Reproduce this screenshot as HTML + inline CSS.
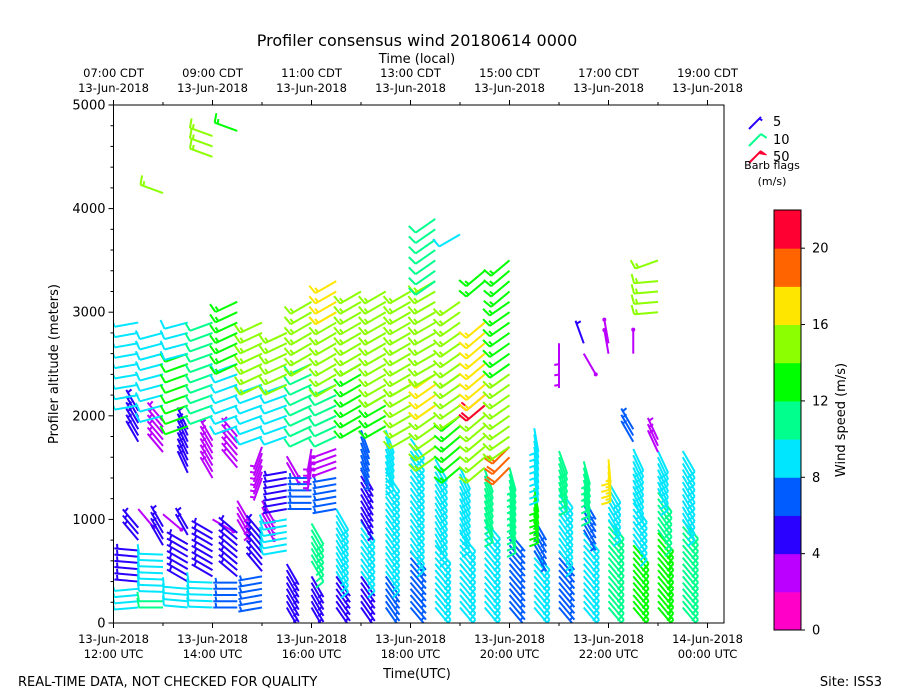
<!DOCTYPE html>
<html><head><meta charset="utf-8">
<style>
html,body{margin:0;padding:0;background:#fff;}
svg{display:block;font-family:"DejaVu Sans","Liberation Sans",sans-serif;}
</style></head>
<body>
<svg id="chart" width="900" height="700" viewBox="0 0 900 700" xmlns="http://www.w3.org/2000/svg">
<defs><clipPath id="plotclip"><rect x="113.5" y="105" width="610.5" height="518"/></clipPath></defs>
<rect x="0" y="0" width="900" height="700" fill="#fff"/>
<text x="417" y="46" font-size="16" text-anchor="middle">Profiler consensus wind 20180614 0000</text>
<text x="417" y="63" font-size="13" text-anchor="middle">Time (local)</text>
<text x="417" y="678" font-size="13" text-anchor="middle">Time(UTC)</text>
<text x="58" y="364" font-size="13" text-anchor="middle" transform="rotate(-90 58 364)">Profiler altitude (meters)</text>
<text x="18" y="686" font-size="13">REAL-TIME DATA, NOT CHECKED FOR QUALITY</text>
<text x="882" y="686" font-size="13" text-anchor="end">Site: ISS3</text>
<g id="barbs" clip-path="url(#plotclip)"></g>
<g id="axes"></g>
<g id="cbar"></g>
<g id="legend"></g>
</svg>
<script>
// ---- data ----
const utcTickHours = [0, 2, 4, 6, 8, 10, 12];
const utcTickDates = ["13-Jun-2018","13-Jun-2018","13-Jun-2018","13-Jun-2018","13-Jun-2018","13-Jun-2018","14-Jun-2018"];
const utcTickTimes = ["12:00 UTC","14:00 UTC","16:00 UTC","18:00 UTC","20:00 UTC","22:00 UTC","00:00 UTC"];
const localTickTimes = ["07:00 CDT","09:00 CDT","11:00 CDT","13:00 CDT","15:00 CDT","17:00 CDT","19:00 CDT"];
const altTicks = [0, 1000, 2000, 3000, 4000, 5000];
const cbarTicks = [0, 4, 8, 12, 16, 20];
const speedBounds = [0,2,4,6,8,10,12,14,16,18,20,22];
const speedColors = ["#ff00c8","#bb00ff","#2a00ff","#005cff","#00e6ff","#00ff8c","#00ff00","#8cff00","#ffe600","#ff6400","#ff0032"];
// bands: time (h after 12 UTC), mode (L=low 60m gates, H=high 100m gates), alt lo, alt hi, speed m/s, dir deg
const bandTime = [0.5,0.5,0.5,0.5,0.5,0.5, 1,1,1,1,1,1,1, 1.5,1.5,1.5,1.5,1.5,1.5, 2,2,2,2,2,2, 2.5,2.5,2.5,2.5,2.5,2.5,2.5, 3,3,3,3,3,3, 3.5,3.5,3.5,3.5,3.5,3.5, 4,4,4,4,4,4, 4.5,4.5,4.5,4.5,4.5,4.5,4.5, 5,5,5,5,5,5, 5.5,5.5,5.5,5.5,5.5,5.5, 6,6,6,6, 6.5,6.5,6.5,6.5,6.5,6.5, 7,7,7,7,7,7, 7.5,7.5,7.5,7.5,7.5,7.5, 8,8,8,8,8,8, 8.5,8.5,8.5,8.5, 9,9,9,9, 9.5,9.5,9.5,9.5,9.5, 10,10,10,10, 10.5,10.5,10.5,10.5,10.5, 11,11,11,11,11,11, 11.5,11.5];
const bandMode = ["L","L","L","L","L","H", "L","L","L","L","L","H","H", "L","L","L","L","H","H", "L","L","L","L","H","H", "L","L","L","L","H","H","H", "L","L","L","L","H","H", "L","L","L","L","H","H", "L","L","L","L","H","H", "L","L","L","L","H","H","H", "L","L","L","L","H","H", "L","L","L","H","H","H", "L","L","H","H", "L","L","H","H","H","H", "L","L","H","H","H","H", "L","L","H","H","H","H", "L","L","H","H","H","H", "L","L","L","L", "L","L","L","H", "L","L","L","H","H", "L","L","L","H", "L","L","L","L","H", "L","L","L","L","H","H", "L","L"];
const bandLo = [150,400,800,1100,1750,2100, 150,300,750,1050,1650,2000,4150, 150,400,850,1450,1900,2600, 150,450,1000,1400,2000,4500, 150,450,1000,1500,1900,2500,4750, 150,500,1000,1400,1800,2300, 150,700,1100,1550,1800,2300, 150,600,1100,1500,1800,2500, 150,500,1100,1500,1800,2300,3000, 150,500,1000,1500,1900,2500, 150,500,1500,1900,2200,3000, 150,700,1800,2300, 150,800,1600,2100,2400,3300, 150,900,1500,2000,2400,3750, 150,1000,1500,2100,2200,3300, 150,900,1500,1700,2500,3200, 150,700,1000,1400, 150,700,1300,2500, 150,900,1200,2600,2700, 150,1000,1400,2600, 150,800,1200,1750,2600, 150,900,1300,1650,3000,3500, 150,1000];
const bandHi = [350,750,950,1100,2050,2900, 250,700,950,1050,2000,2800,4150, 350,800,950,1900,2600,2900, 400,900,1000,1800,2900,4700, 400,900,1200,1800,2500,3100,4750, 450,900,1200,1700,2300,2900, 600,1000,1500,1650,2300,2800, 500,1000,1400,1700,2500,3100, 500,1100,1400,1700,2300,3000,3300, 500,1000,1500,1900,2500,3200, 500,1500,1900,2200,2900,3200, 700,1800,2300,3200, 800,1600,2100,2400,3300,3900, 900,1500,2000,2400,3100,3750, 1000,1500,2100,2200,2900,3400, 900,1500,1700,2400,3100,3500, 700,1000,1300,1900, 700,1300,1700,2700, 900,1200,1600,2600,2700, 1000,1400,1600,2700, 800,1200,1700,1900,2600, 900,1300,1700,1800,3300,3550, 1000,1700];
const bandSpeed = [9,5,5,2,5,9, 11,9,5,2,3,9,15, 9,5,5,4,12,9, 9,5,2,3,10,15, 7,5,3,3,9,13,13, 7,5,2,3,9,15, 5,9,5,2,9,15, 5,11,6,3,11,14, 5,9,6,2,11,15,17, 5,9,5,7,13,15, 6,9,9,13,15,14, 7,9,14,15, 8,9,15,17,14,11, 9,9,13,14,15,9, 9,11,14,20,17,13, 7,11,18,14,13,13, 9,6,13,9, 7,9,11,3, 9,6,11,2,5, 11,9,17,2, 12,9,9,6,2, 13,11,9,3,14,15, 10,9];
const bandDir = [265,275,320,140,330,260, 270,272,330,130,320,255,290, 275,300,330,335,250,255, 272,300,120,330,250,290, 270,310,150,320,250,245,290, 260,320,150,200,250,245, 150,260,260,150,250,245, 150,150,270,190,245,240, 145,150,260,250,245,240,240, 145,145,150,160,240,240, 145,145,160,240,240,240, 140,145,240,240, 140,150,235,235,240,235, 140,155,230,235,235,240, 140,160,230,230,230,230, 140,165,225,235,235,230, 140,150,170,170, 140,145,160,180, 140,150,165,150,340, 140,150,175,350, 140,145,155,330,0, 140,145,155,335,265,250, 140,150];

// ---- geometry ----
const X0 = 113.5, PXH = 49.5, XR = 724, YT = 105, YB = 623, ALTMAX = 5000;
const xs = h => X0 + h * PXH;
const ys = a => YB - a / ALTMAX * (YB - YT);
const NS = "http://www.w3.org/2000/svg";
function mk(tag, attrs, parent) {
  const e = document.createElementNS(NS, tag);
  for (const k in attrs) e.setAttribute(k, attrs[k]);
  parent.appendChild(e);
  return e;
}
function colorFor(s) {
  for (let i = 0; i < speedColors.length; i++) if (s < speedBounds[i + 1]) return speedColors[i];
  return speedColors[speedColors.length - 1];
}
function drawBarb(g, bx, by, spd, dir, L, name) {
  const r = dir * Math.PI / 180;
  const sx = Math.sin(r), sy = -Math.cos(r);
  const r2 = (dir + 80) * Math.PI / 180;
  const px = Math.sin(r2), py = -Math.cos(r2);
  const col = colorFor(spd);
  const tx = bx + sx * L, ty = by + sy * L;
  const grp = mk("g", {stroke: col, "stroke-width": 2, fill: "none", "stroke-linecap": "butt"}, g);
  
  
  mk("line", {x1: bx, y1: by, x2: tx, y2: ty}, grp);
  let rs = Math.round(spd / 5) * 5;
  if (rs === 0) { mk("circle", {cx: tx, cy: ty, r: 2, fill: col, stroke: "none"}, grp); return; }
  let pos = 0;
  const bl = L * 0.4, sp = L * 0.13;
  while (rs >= 50) {
    const ax = tx - sx * pos, ay = ty - sy * pos;
    const cx = tx - sx * (pos + sp * 1.6), cy = ty - sy * (pos + sp * 1.6);
    mk("polygon", {points: `${ax},${ay} ${ax + px * bl},${ay + py * bl} ${cx},${cy}`, fill: col, stroke: col, "stroke-width": 1}, grp);
    pos += sp * 2; rs -= 50;
  }
  while (rs >= 10) {
    const ax = tx - sx * pos, ay = ty - sy * pos;
    mk("line", {x1: ax, y1: ay, x2: ax + px * bl, y2: ay + py * bl}, grp);
    pos += sp; rs -= 10;
  }
  if (rs >= 5) {
    if (pos === 0) pos = sp;
    const ax = tx - sx * pos, ay = ty - sy * pos;
    mk("line", {x1: ax, y1: ay, x2: ax + px * bl * 0.5, y2: ay + py * bl * 0.5}, grp);
  }
}

// ---- barbs ----
const gB = document.getElementById("barbs");
for (let i = 0; i < bandTime.length; i++) {
  const step = bandMode[i] === "L" ? 60 : 100;
  for (let a = bandLo[i]; a <= bandHi[i] + 1; a += step) {
    drawBarb(gB, xs(bandTime[i]), ys(a), bandSpeed[i], bandDir[i], 24, 'wind-barb');
  }
}

// ---- axes ----
const gA = document.getElementById("axes");
const frame = mk("rect", {x: X0, y: YT, width: XR - X0, height: YB - YT, fill: "none", stroke: "#000", "stroke-width": 1}, gA);


for (let h = 0; h <= 12; h++) {
  const x = xs(h), maj = h % 2 === 0;
  mk("line", {x1: x, y1: YB, x2: x, y2: YB + (maj ? 5 : 3), stroke: "#000"}, gA);
  mk("line", {x1: x, y1: YT, x2: x, y2: YT - (maj ? 5 : 3), stroke: "#000"}, gA);
}
utcTickHours.forEach((h, i) => {
  const x = xs(h);
  const t1 = mk("text", {x: x, y: YB + 20, "font-size": 11.5, "text-anchor": "middle"}, gA);
  t1.textContent = utcTickDates[i];
  
  
  const t2 = mk("text", {x: x, y: YB + 35, "font-size": 11.5, "text-anchor": "middle"}, gA);
  t2.textContent = utcTickTimes[i];
  
  
  const t3 = mk("text", {x: x, y: 77, "font-size": 11.5, "text-anchor": "middle"}, gA);
  t3.textContent = localTickTimes[i];
  
  
  const t4 = mk("text", {x: x, y: 92, "font-size": 11.5, "text-anchor": "middle"}, gA);
  t4.textContent = utcTickDates[0];
  
  
});
for (let a = 0; a <= 5000; a += 200) {
  const maj = a % 1000 === 0;
  mk("line", {x1: X0, y1: ys(a), x2: X0 - (maj ? 5 : 3), y2: ys(a), stroke: "#000"}, gA);
}
altTicks.forEach(a => {
  const t = mk("text", {x: X0 - 8, y: ys(a) + 4.5, "font-size": 13, "text-anchor": "end"}, gA);
  t.textContent = a;
  
  
});

// ---- colorbar ----
const gC = document.getElementById("cbar");
const CX = 774, CW = 27, CT = 210, CB = 630, VMAX = 22;
const cy = v => CB - v / VMAX * (CB - CT);
for (let i = 0; i < speedColors.length; i++) {
  const r = mk("rect", {x: CX, y: cy(speedBounds[i + 1]), width: CW, height: cy(speedBounds[i]) - cy(speedBounds[i + 1]) + 0.5, fill: speedColors[i]}, gC);
  
  
}
mk("rect", {x: CX, y: CT, width: CW, height: CB - CT, fill: "none", stroke: "#000"}, gC);
cbarTicks.forEach(v => {
  mk("line", {x1: CX + CW, y1: cy(v), x2: CX + CW + 4, y2: cy(v), stroke: "#000"}, gC);
  const t = mk("text", {x: CX + CW + 11, y: cy(v) + 4.5, "font-size": 13}, gC);
  t.textContent = v;
  
  
});
const cl = mk("text", {x: 845, y: 420, "font-size": 13, "text-anchor": "middle", transform: "rotate(-90 845 420)"}, gC);
cl.textContent = "Wind speed (m/s)";



// ---- legend ----
const gL = document.getElementById("legend");
drawBarb(gL, 749, 129, 5, 45, 17, 'legend-barb-5');
drawBarb(gL, 749, 146, 10, 45, 17, 'legend-barb-10');
drawBarb(gL, 749, 163, 50, 45, 17, 'legend-barb-50');
[["5", 126], ["10", 144], ["50", 161]].forEach(p => {
  const t = mk("text", {x: 773, y: p[1], "font-size": 13}, gL);
  t.textContent = p[0];
  
  
});
const lt1 = mk("text", {x: 772, y: 169, "font-size": 11, "text-anchor": "middle"}, gL);
lt1.textContent = "Barb flags";


const lt2 = mk("text", {x: 772, y: 185, "font-size": 11, "text-anchor": "middle"}, gL);
lt2.textContent = "(m/s)";


</script>
</body></html>
